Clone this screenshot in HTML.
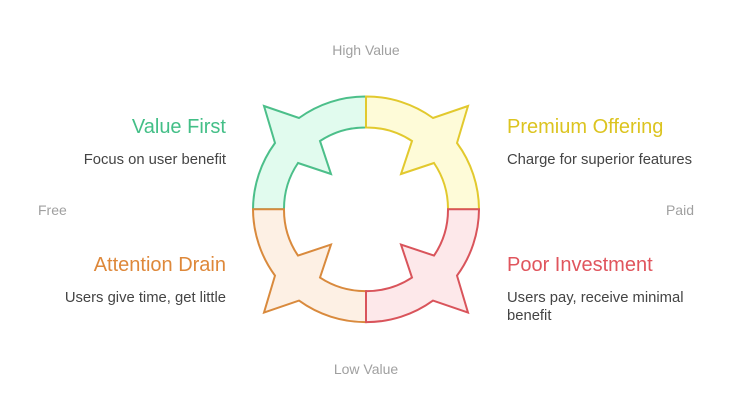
<!DOCTYPE html>
<html><head><meta charset="utf-8"><style>
html,body{margin:0;padding:0;background:#fff;}
svg{display:block;font-family:"Liberation Sans",Arial,sans-serif;}
</style></head><body>
<svg width="732" height="412" viewBox="0 0 732 412" xmlns="http://www.w3.org/2000/svg">
<defs>
<path id="q" d="M253,209.3 A113 113 0 0 1 275,143 L264,106 L299,118 A113 113 0 0 1 366,96.5 L366,127.5 A82 82 0 0 0 320,141 L331,174 L298,163 A82 82 0 0 0 284,209.3 Z" stroke-width="2" stroke-linejoin="miter"/>
</defs>
<use href="#q" fill="#e1fbee" stroke="#4cbf8a"/>
<g transform="translate(732,0) scale(-1,1)"><use href="#q" fill="#fefbd8" stroke="#e2c92e"/></g>
<g transform="translate(0,418.6) scale(1,-1)"><use href="#q" fill="#fdf0e4" stroke="#d98a3d"/></g>
<g transform="translate(732,418.6) scale(-1,-1)"><use href="#q" fill="#fde8ea" stroke="#d9545b"/></g>

<g font-size="14" fill="#a0a0a0">
<text x="366" y="55" text-anchor="middle">High Value</text>
<text x="366" y="374" text-anchor="middle">Low Value</text>
<text x="38" y="215">Free</text>
<text x="694" y="215" text-anchor="end">Paid</text>
</g>
<g font-size="20">
<text x="226" y="133" text-anchor="end" fill="#43bf87">Value First</text>
<text x="507" y="133" fill="#dcc420">Premium Offering</text>
<text x="226" y="271" text-anchor="end" fill="#de883a">Attention Drain</text>
<text x="507" y="271" fill="#e0555d">Poor Investment</text>
</g>
<g font-size="14.8" fill="#444">
<text x="226" y="164" text-anchor="end">Focus on user benefit</text>
<text x="507" y="164">Charge for superior features</text>
<text x="226" y="302" text-anchor="end">Users give time, get little</text>
<text x="507" y="302">Users pay, receive minimal</text>
<text x="507" y="320">benefit</text>
</g>
</svg>
</body></html>
